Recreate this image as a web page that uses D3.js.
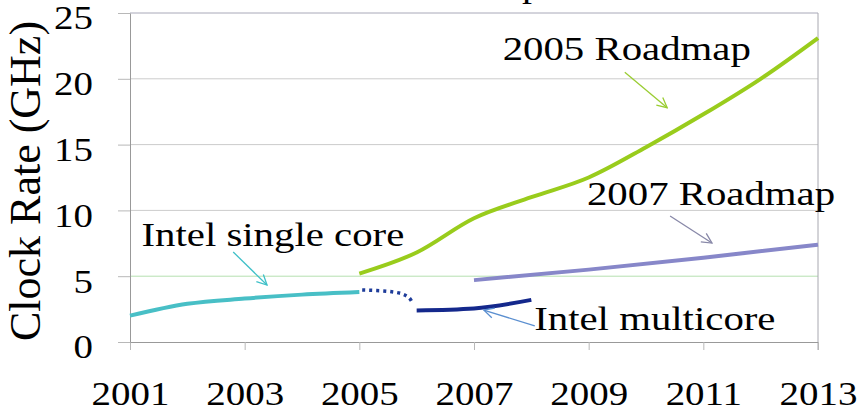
<!DOCTYPE html>
<html>
<head>
<meta charset="utf-8">
<script src="https://cdn.jsdelivr.net/npm/d3@7"></script>
<style>
  body { margin: 0; background: #fff; }
  svg text { font-family: "Liberation Serif", "Tinos", "Times New Roman", "DejaVu Serif", serif !important; fill: #000; }
</style>
</head>
<body>
<div id="chart"></div>
<script>
// data (GHz)
const singleYears = [2001, 2002, 2003, 2004, 2005];
const singleValues = [2.0, 2.9, 3.3, 3.6, 3.8];

const gapYears = [2005.05, 2005.5, 2005.75, 2005.87, 2005.93];
const gapValues = [3.95, 3.85, 3.65, 3.35, 2.95];

const multiYears = [2006, 2007, 2008];
const multiValues = [2.4, 2.55, 3.2];

const road2005Years = [2005, 2006, 2007, 2008, 2009, 2010, 2011, 2012, 2013];
const road2005Values = [5.2, 6.8, 9.4, 11.0, 12.5, 14.8, 17.3, 20.0, 23.1];

const road2007Years = [2007, 2009, 2011, 2013];
const road2007Values = [4.7, 5.5, 6.4, 7.4];

const xTicks = [2001, 2003, 2005, 2007, 2009, 2011, 2013];
const yTicks = [0, 5, 10, 15, 20, 25];

// annotation labels and arrows, in data units
const labelTexts = ["2005 Roadmap", "2007 Roadmap", "Intel single core", "Intel multicore"];
const labelX = [2007.5, 2008.97, 2001.2, 2008.05];
const labelY = [21.4, 10.4, 7.3, 0.9];
const arrowColors = ["#9acd32", "#8888a8", "#3fc0c8", "#5b8fd0"];
const arrowFrom = [[2009.63, 20.5], [2010.42, 9.57], [2002.8, 6.84], [2008.06, 1.22]];
const arrowTo = [[2010.37, 17.8], [2011.15, 7.52], [2003.39, 4.33], [2007.17, 2.43]];

const margin = {top: 13, right: 46, bottom: 64, left: 130},
width = 864 - margin.left - margin.right,
height = 406 - margin.top - margin.bottom;

const stretch = 1.18;

const svg = d3.select("#chart")
.append("svg")
.attr("width", width + margin.left + margin.right)
.attr("height", height + margin.top + margin.bottom)
.append("g")
.attr("transform", `translate(${margin.left},${margin.top})`);

const x = d3.scaleLinear()
  .domain([2001, 2013])
  .range([0, width]);

const y = d3.scaleLinear()
  .domain([0, 25])
  .range([height, 0]);

// clipped title, only the descender of the "p" shows
svg.append("text")
  .attr("transform", `translate(${542 - margin.left},-16) scale(${stretch},1)`)
  .attr("text-anchor", "end")
  .style("font-size", "34px")
  .text("Roadmap");

// gridlines
svg.selectAll("grid")
  .data(yTicks.filter(d => d > 0))
  .join("line")
    .attr("x1", 0)
    .attr("x2", width)
    .attr("y1", d => y(d))
    .attr("y2", d => y(d))
    .attr("stroke", d => d === 5 ? "#b6e0b0" : (d === 25 ? "#a8a8b8" : "#cccccc"))
    .attr("stroke-width", 1);

// right border
svg.append("line")
  .attr("x1", width).attr("x2", width)
  .attr("y1", 0).attr("y2", height + 8)
  .attr("stroke", "#a8a8b0");

// X axis
const xAxis = svg.append("g")
  .call(d3.axisBottom(x).tickValues(xTicks).tickFormat(d3.format("d")).tickSize(8).tickSizeOuter(0));
xAxis.attr("transform", `translate(0, ${height})`).attr("font-family", null);
xAxis.select(".domain").attr("stroke", "#999");
xAxis.selectAll("line").attr("stroke", "#b8b8b8");
xAxis.selectAll("text")
  .attr("y", null)
  .attr("dy", null)
  .attr("transform", `translate(0,63) scale(${stretch},1)`)
  .style("font-size", "33px");

// Y axis
const yAxis = svg.append("g")
  .call(d3.axisLeft(y).tickValues(yTicks).tickSize(12).tickSizeOuter(0));
yAxis.attr("font-family", null);
yAxis.select(".domain").attr("stroke", "#999");
yAxis.selectAll("line").attr("stroke", "#b8b8b8");
yAxis.selectAll("text")
  .attr("x", null)
  .attr("dy", "0.48em")
  .attr("transform", `translate(-37,0) scale(${stretch},1)`)
  .style("font-size", "33px");

// y label
svg.append("text")
  .attr("transform", `translate(${40 - margin.left},${181 - margin.top}) rotate(-90)`)
  .attr("text-anchor", "middle")
  .style("font-size", "44px")
  .text("Clock Rate (GHz)");

// lines
const line = d3.line()
  .x(d => x(d[0]))
  .y(d => y(d[1]))
  .curve(d3.curveMonotoneX);

function series(years, values) { return years.map((yr, i) => [yr, values[i]]); }

svg.append("path")
  .datum(series(road2005Years, road2005Values))
  .attr("fill", "none")
  .attr("stroke", "#99cc1c")
  .attr("stroke-width", 4)
  .attr("d", line);

svg.append("path")
  .datum(series(road2007Years, road2007Values))
  .attr("fill", "none")
  .attr("stroke", "#8787c9")
  .attr("stroke-width", 4)
  .attr("d", line);

svg.append("path")
  .datum(series(singleYears, singleValues))
  .attr("fill", "none")
  .attr("stroke", "#48bfc6")
  .attr("stroke-width", 4)
  .attr("d", line);

svg.append("path")
  .datum(series(gapYears, gapValues))
  .attr("fill", "none")
  .attr("stroke", "#1e3c9a")
  .attr("stroke-width", 3.5)
  .attr("stroke-dasharray", "3,4")
  .attr("d", d3.line().x(d => x(d[0])).y(d => y(d[1])).curve(d3.curveCatmullRom));

svg.append("path")
  .datum(series(multiYears, multiValues))
  .attr("fill", "none")
  .attr("stroke", "#14288c")
  .attr("stroke-width", 4)
  .attr("d", line);

// arrow markers
const defs = svg.append("defs");
arrowColors.forEach(function(c, i) {
  defs.append("marker")
    .attr("id", "arrow" + i)
    .attr("viewBox", "0 0 12 12")
    .attr("refX", 11)
    .attr("refY", 6)
    .attr("markerWidth", 12)
    .attr("markerHeight", 12)
    .attr("markerUnits", "userSpaceOnUse")
    .attr("orient", "auto")
    .append("path")
      .attr("d", "M1,1 L11,6 L1,11")
      .attr("fill", "none")
      .attr("stroke", c)
      .attr("stroke-width", 1.3);
});

svg.selectAll("arrows")
  .data(arrowFrom)
  .join("line")
    .attr("x1", d => x(d[0]))
    .attr("y1", d => y(d[1]))
    .attr("x2", (d, i) => x(arrowTo[i][0]))
    .attr("y2", (d, i) => y(arrowTo[i][1]))
    .attr("stroke", (d, i) => arrowColors[i])
    .attr("stroke-width", 1.3)
    .attr("marker-end", (d, i) => `url(#arrow${i})`);

// labels
svg.selectAll("labels")
  .data(labelTexts)
  .join("text")
    .attr("transform", (d, i) => `translate(${x(labelX[i])},${y(labelY[i])}) scale(1.2,1)`)
    .style("font-size", "34px")
    .text(d => d);
</script>
</body>
</html>
